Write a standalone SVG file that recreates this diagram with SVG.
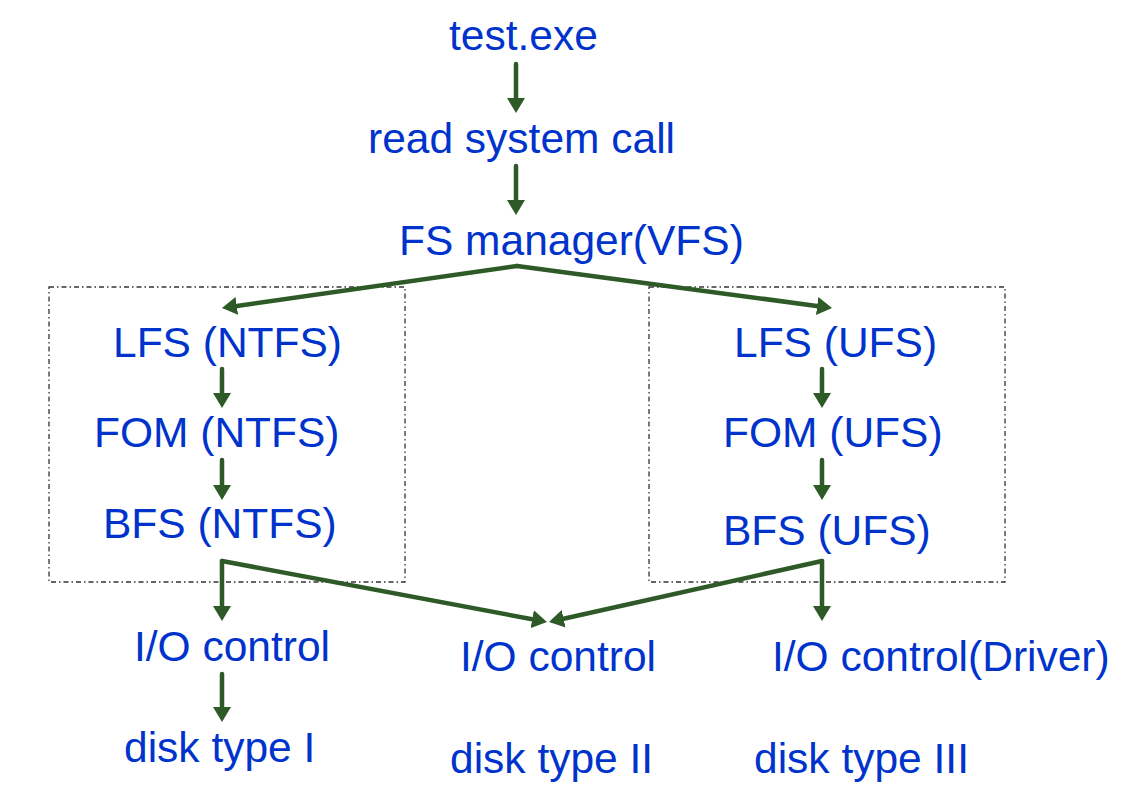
<svg xmlns="http://www.w3.org/2000/svg" width="1134" height="796" viewBox="0 0 1134 796">
<style>
  .lbl { font-family: "Liberation Sans", Arial, sans-serif; font-size: 42.5px; fill: #0033CC; }
  .con { fill: none; stroke: #2D5A27; stroke-width: 4.5; stroke-linecap: round; marker-end: url(#ah); }
  .grp { fill: none; stroke: #333333; stroke-width: 1.3; stroke-dasharray: 5 3 1.5 3; }
</style>
<defs>
  <marker id="ah" markerUnits="userSpaceOnUse" markerWidth="16" markerHeight="18" viewBox="0 0 16 18" refX="7" refY="9" orient="auto">
    <path d="M0,0 L15,9 L0,18 z" fill="#2D5A27"/>
  </marker>
</defs>
<rect width="1134" height="796" fill="#ffffff"/>

<g id="groups">
  <rect id="box-ntfs" class="grp" x="49" y="287" width="356" height="295"/>
  <rect id="box-ufs" class="grp" x="649" y="287" width="356" height="295"/>
</g>

<g id="connectors">
  <path class="con" d="M516,64 L516,105"/>
  <path class="con" d="M516,166 L516,207"/>
  <path class="con" d="M517,266 L229.9,306.9"/>
  <path class="con" d="M517,266 L824.1,306.9"/>
  <path class="con" d="M222,369 L222,400"/>
  <path class="con" d="M222,460 L222,492"/>
  <path class="con" d="M822,369 L822,400"/>
  <path class="con" d="M822,460 L822,492"/>
  <path class="con" d="M222,561 L222,613"/>
  <path class="con" d="M222,561 L539.1,620.5"/>
  <path class="con" d="M822,561 L822,613"/>
  <path class="con" d="M822,561 L556.8,620.3"/>
  <path class="con" d="M222,674 L222,714"/>
</g>

<g id="n-test"><text class="lbl" x="449" y="50">test.exe</text></g>
<g id="n-read"><text class="lbl" x="368" y="153">read system call</text></g>
<g id="n-vfs"><text class="lbl" x="399" y="255">FS manager(VFS)</text></g>

<g id="n-lfs-ntfs"><text class="lbl" x="113" y="357">LFS (NTFS)</text></g>
<g id="n-fom-ntfs"><text class="lbl" x="94" y="447">FOM (NTFS)</text></g>
<g id="n-bfs-ntfs"><text class="lbl" x="103" y="538">BFS (NTFS)</text></g>

<g id="n-lfs-ufs"><text class="lbl" x="734" y="357">LFS (UFS)</text></g>
<g id="n-fom-ufs"><text class="lbl" x="723" y="447">FOM (UFS)</text></g>
<g id="n-bfs-ufs"><text class="lbl" x="723" y="545">BFS (UFS)</text></g>

<g id="n-io1"><text class="lbl" x="134" y="661">I/O control</text></g>
<g id="n-io2"><text class="lbl" x="460" y="671">I/O control</text></g>
<g id="n-io3"><text class="lbl" x="772" y="671">I/O control(Driver)</text></g>

<g id="n-disk1"><text class="lbl" x="124" y="762">disk type I</text></g>
<g id="n-disk2"><text class="lbl" x="450" y="773">disk type II</text></g>
<g id="n-disk3"><text class="lbl" x="754" y="773">disk type III</text></g>
</svg>
